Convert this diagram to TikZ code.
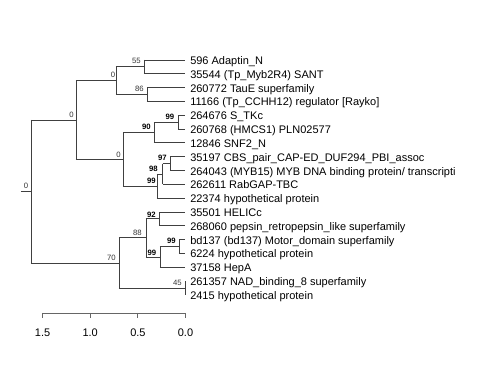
\documentclass[tikz,border=0pt]{standalone}
\usepackage{fontspec}
\setmainfont{Liberation Sans}
\begin{document}
\begin{tikzpicture}[x=0.75pt,y=-0.75pt,
  br/.style={draw=black!75, line width=0.65pt},
  ax/.style={draw=black!60, line width=0.65pt},
  leaf/.style={anchor=base west, inner sep=0pt, xshift=3.375pt, yshift=-3.375pt, font=\fontsize{8.25}{9}\selectfont},
  axl/.style={anchor=base, inner sep=0pt, font=\fontsize{8.25}{9}\selectfont},
  bl/.style={inner sep=0pt, font=\fontsize{5.8}{6}\selectfont, text=black!80},
  bb/.style={inner sep=0pt, font=\fontsize{5.8}{6}\selectfont\bfseries},
  ]
\useasboundingbox (0,0) rectangle (480,384);
\clip (0,0) rectangle (480,384);
% leaf tips
\coordinate (t1) at (185.5,60.0);
\coordinate (t2) at (185.5,73.8);
\coordinate (t3) at (185.5,87.6);
\coordinate (t4) at (185.5,101.5);
\coordinate (t5) at (185.5,115.3);
\coordinate (t6) at (185.5,129.1);
\coordinate (t7) at (185.5,142.9);
\coordinate (t8) at (185.5,156.7);
\coordinate (t9) at (185.5,170.6);
\coordinate (t10) at (185.5,184.4);
\coordinate (t11) at (185.5,198.2);
\coordinate (t12) at (185.5,212.0);
\coordinate (t13) at (185.5,225.8);
\coordinate (t14) at (185.5,239.7);
\coordinate (t15) at (185.5,253.5);
\coordinate (t16) at (185.5,267.3);
\coordinate (t17) at (185.5,281.1);
\coordinate (t18) at (185.5,295.0);
% internal nodes
\coordinate (C) at (144,66.9);
\coordinate (D) at (147,94.55);
\coordinate (B) at (116,80.7);
\coordinate (G) at (178,122.2);
\coordinate (F) at (154,132.55);
\coordinate (J) at (170,163.65);
\coordinate (I) at (162.7,174.0);
\coordinate (H) at (157,186.1);
\coordinate (E) at (123,159.3);
\coordinate (A) at (76,120.0);
\coordinate (M) at (159,218.9);
\coordinate (O) at (179,246.6);
\coordinate (N) at (160,256.95);
\coordinate (L) at (146,237.9);
\coordinate (P) at (185.5,288.05);
\coordinate (K) at (119,263.0);
\coordinate (R) at (31,191.5);
\coordinate (r0) at (21,191.5);
% branches
\draw[br] (r0) -- (R);
\draw[br] (R |- A) -- (R |- K);
\draw[br] (R |- A) -- (A);
\draw[br] (R |- K) -- (K);
\draw[br] (A |- B) -- (A |- E);
\draw[br] (A |- B) -- (B);
\draw[br] (A |- E) -- (E);
\draw[br] (B |- C) -- (B |- D);
\draw[br] (B |- C) -- (C);
\draw[br] (B |- D) -- (D);
\draw[br] (C |- t1) -- (C |- t2);
\draw[br] (C |- t1) -- (t1);
\draw[br] (C |- t2) -- (t2);
\draw[br] (D |- t3) -- (D |- t4);
\draw[br] (D |- t3) -- (t3);
\draw[br] (D |- t4) -- (t4);
\draw[br] (E |- F) -- (E |- H);
\draw[br] (E |- F) -- (F);
\draw[br] (E |- H) -- (H);
\draw[br] (F |- G) -- (F |- t7);
\draw[br] (F |- G) -- (G);
\draw[br] (F |- t7) -- (t7);
\draw[br] (G |- t5) -- (G |- t6);
\draw[br] (G |- t5) -- (t5);
\draw[br] (G |- t6) -- (t6);
\draw[br] (H |- I) -- (H |- t11);
\draw[br] (H |- I) -- (I);
\draw[br] (H |- t11) -- (t11);
\draw[br] (I |- J) -- (I |- t10);
\draw[br] (I |- J) -- (J);
\draw[br] (I |- t10) -- (t10);
\draw[br] (J |- t8) -- (J |- t9);
\draw[br] (J |- t8) -- (t8);
\draw[br] (J |- t9) -- (t9);
\draw[br] (K |- L) -- (K |- P);
\draw[br] (K |- L) -- (L);
\draw[br] (K |- P) -- (P);
\draw[br] (L |- M) -- (L |- N);
\draw[br] (L |- M) -- (M);
\draw[br] (L |- N) -- (N);
\draw[br] (M |- t12) -- (M |- t13);
\draw[br] (M |- t12) -- (t12);
\draw[br] (M |- t13) -- (t13);
\draw[br] (N |- O) -- (N |- t16);
\draw[br] (N |- O) -- (O);
\draw[br] (N |- t16) -- (t16);
\draw[br] (O |- t14) -- (O |- t15);
\draw[br] (O |- t14) -- (t14);
\draw[br] (O |- t15) -- (t15);
\draw[br] (P |- t17) -- (P |- t18);
% support labels
\node[bl] (lC) at (136.5,61) {55};
\node[bl] (lB) at (113,75) {0};
\node[bl] (lD) at (139.5,89) {86};
\node[bl] (lA) at (71.5,115) {0};
\node[bb] (lG) at (170,117) {99};
\node[bb] (lF) at (146.5,126.5) {90};
\node[bl] (lE) at (118.5,154.5) {0};
\node[bb] (lJ) at (162.5,158) {97};
\node[bb] (lI) at (153.5,169) {98};
\node[bb] (lH) at (151.5,181) {99};
\node[bl] (lR) at (26,185.5) {0};
\node[bb] (lM) at (151.5,214.5) {92};
\node[bl] (lL) at (137.5,232.5) {88};
\node[bb] (lO) at (171.5,241) {99};
\node[bb] (lN) at (152,252.5) {99};
\node[bl] (lK) at (111.5,258) {70};
\node[bl] (lP) at (177.5,282.5) {45};
% leaf labels
\node[leaf] (n1) at (t1) {596 Adaptin\_N};
\node[leaf] (n2) at (t2) {35544 (Tp\_Myb2R4) SANT};
\node[leaf] (n3) at (t3) {260772 TauE superfamily};
\node[leaf] (n4) at (t4) {11166 (Tp\_CCHH12) regulator [Rayko]};
\node[leaf] (n5) at (t5) {264676 S\_TKc};
\node[leaf] (n6) at (t6) {260768 (HMCS1) PLN02577};
\node[leaf] (n7) at (t7) {12846 SNF2\_N};
\node[leaf] (n8) at (t8) {35197 CBS\_pair\_CAP-ED\_DUF294\_PBI\_assoc};
\node[leaf] (n9) at (t9) {264043 (MYB15) MYB DNA binding protein/ transcripti};
\node[leaf] (n10) at (t10) {262611 RabGAP-TBC};
\node[leaf] (n11) at (t11) {22374 hypothetical protein};
\node[leaf] (n12) at (t12) {35501 HELICc};
\node[leaf] (n13) at (t13) {268060 pepsin\_retropepsin\_like superfamily};
\node[leaf] (n14) at (t14) {bd137 (bd137) Motor\_domain superfamily};
\node[leaf] (n15) at (t15) {6224 hypothetical protein};
\node[leaf] (n16) at (t16) {37158 HepA};
\node[leaf] (n17) at (t17) {261357 NAD\_binding\_8 superfamily};
\node[leaf] (n18) at (t18) {2415 hypothetical protein};
% scale axis
\coordinate (a0) at (42.6,313);
\coordinate (a1) at (90.2,313);
\coordinate (a2) at (137.9,313);
\coordinate (a3) at (185.5,313);
\draw[ax] (a0) -- (a3);
\foreach \p in {a0,a1,a2,a3} \draw[ax] (\p) -- ++(0,5.5);
\node[axl] (x0) at (42.6,337) {1.5};
\node[axl] (x1) at (90.2,337) {1.0};
\node[axl] (x2) at (137.9,337) {0.5};
\node[axl] (x3) at (185.5,337) {0.0};
\end{tikzpicture}
\end{document}
